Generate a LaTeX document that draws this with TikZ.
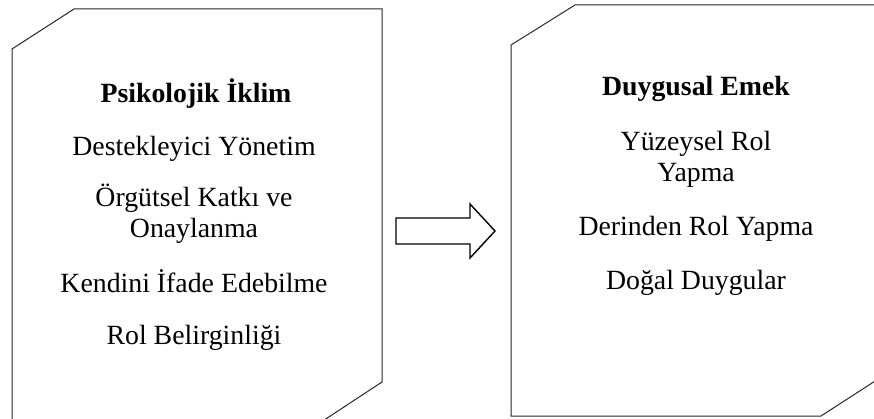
\documentclass[tikz,border=0pt]{standalone}
\usepackage{fontspec}
\setmainfont{Liberation Serif}
\begin{document}
\begin{tikzpicture}[x=1pt,y=-1pt,
  frame/.style={draw=black!85,line width=1pt,line join=miter},
  blockarrow/.style={draw=black,line width=1.4pt,fill=white,line join=miter},
  txt/.style={inner sep=0pt,anchor=base,font=\fontsize{27.8}{31}\selectfont},
  head/.style={txt,font=\fontsize{27.8}{31}\selectfont\bfseries}]
\useasboundingbox (0,0) rectangle (874,419);
\begin{scope}
\clip (0,0) rectangle (874,419);
% left panel
\draw[frame] (12,49) -- (74,9) -- (382,9) -- (382,382) -- (309,430) -- (12,430) -- cycle;
% right panel
\draw[frame] (511,45) -- (575,5) -- (920,5) -- (920,352) -- (821,416) -- (511,416) -- cycle;
\end{scope}
% block arrow
\draw[blockarrow] (396,218) -- (470,218) -- (470,204) -- (495,231) -- (470,258) -- (470,244) -- (396,244) -- cycle;
% left texts
\node[head] (l0) at (196,103) {Psikolojik İklim};
\node[txt] (l1) at (194,156) {Destekleyici Yönetim};
\node[txt] (l2) at (194,207) {Örgütsel Katkı ve};
\node[txt] (l3) at (194,238) {Onaylanma};
\node[txt] (l4) at (194,292) {Kendini İfade Edebilme};
\node[txt] (l5) at (194,344) {Rol Belirginliği};
% right texts
\node[head] (r0) at (696,96) {Duygusal Emek};
\node[txt] (r1) at (696,151) {Yüzeysel Rol};
\node[txt] (r2) at (696,182) {Yapma};
\node[txt] (r3) at (696,236) {Derinden Rol Yapma};
\node[txt] (r4) at (696,289) {Doğal Duygular};
\end{tikzpicture}
\end{document}
